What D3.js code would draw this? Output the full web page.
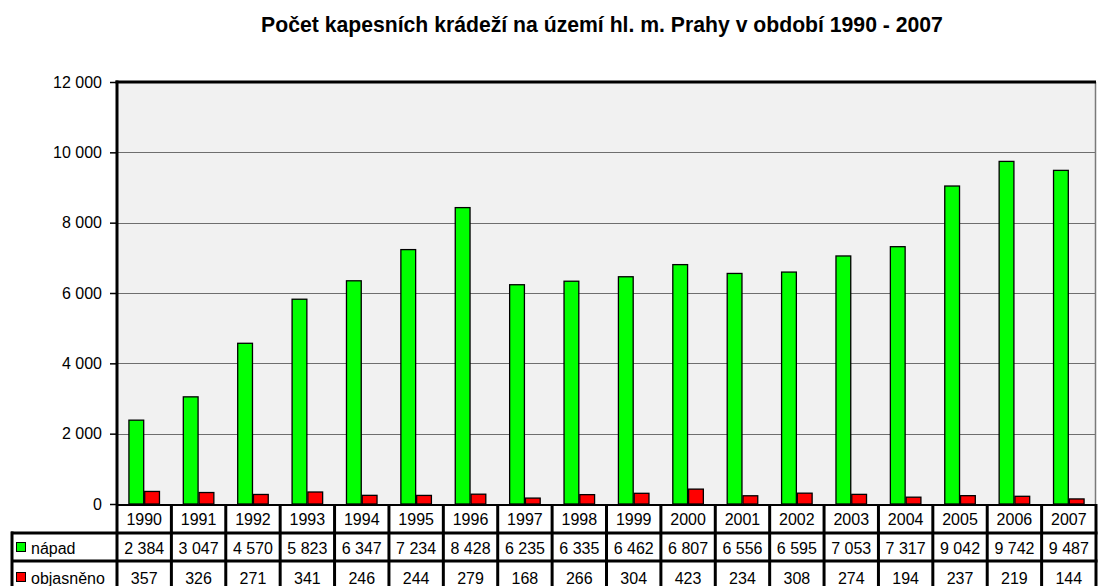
<!DOCTYPE html>
<html>
<head>
<meta charset="utf-8">
<script src="https://cdn.jsdelivr.net/npm/d3@7/dist/d3.min.js"></script>
<style>
  html, body { margin: 0; padding: 0; background: #fff; }
  svg { display: block; font-family: Arial, "Liberation Sans", sans-serif; }
</style>
</head>
<body>
<svg id="chart" width="1098" height="586"></svg>
<script>
const title = "Počet kapesních krádeží na území hl. m. Prahy v období 1990 - 2007";
const years = ["1990","1991","1992","1993","1994","1995","1996","1997","1998","1999","2000","2001","2002","2003","2004","2005","2006","2007"];
const napad = [2384,3047,4570,5823,6347,7234,8428,6235,6335,6462,6807,6556,6595,7053,7317,9042,9742,9487];
const objasneno = [357,326,271,341,246,244,279,168,266,304,423,234,308,274,194,237,219,144];
const seriesNames = ["nápad","objasněno"];
const seriesColors = ["#00ff00","#ff0000"];
const yTicks = [0,2000,4000,6000,8000,10000,12000];

const svg = d3.select("#chart");
const L = 117, R = 1096, T = 82, B = 504;
const FF = "Arial, 'Liberation Sans', sans-serif";
const fmt = v => d3.format(",")(v).replace(/,/g, " ");

const x = d3.scaleBand().domain(years).range([L, R]).paddingInner(0).paddingOuter(0);
const y = d3.scaleLinear().domain([0, 12000]).range([B, T]);
const bw = x.bandwidth();
const x1 = d3.scaleBand().domain(seriesNames).range([bw * 0.21, bw * 0.79]).padding(0);

// title
svg.append("text").attr("x", 602).attr("y", 32).attr("text-anchor", "middle")
  .style("font-weight", "bold").style("font-size", "21.2px").text(title);

// plot background
svg.append("rect").attr("x", L).attr("y", T).attr("width", R - L).attr("height", B - T).attr("fill", "#f1f1f1");

// gridlines
svg.append("g").selectAll("line").data(yTicks.filter(d => d > 0 && d < 12000)).join("line")
  .attr("x1", L).attr("x2", R).attr("y1", d => Math.round(y(d)) + 0.5).attr("y2", d => Math.round(y(d)) + 0.5)
  .attr("stroke", "#6e6e6e").attr("stroke-width", 1);

// y axis
const yAxis = d3.axisLeft(y).tickValues(yTicks).tickFormat(fmt).tickSize(6).tickPadding(8);
const gy = svg.append("g").attr("transform", `translate(${L - 1},0)`).call(yAxis);
gy.select(".domain").remove();
gy.selectAll(".tick line").attr("stroke", "#000").attr("stroke-width", 1.5);
gy.selectAll(".tick text").style("font-size", "16px").attr("fill", "#000").attr("font-family", FF);

// bars
const data = years.map((yr, i) => ({ yr, vals: [napad[i], objasneno[i]] }));
const grp = svg.append("g").selectAll("g").data(data).join("g").attr("transform", d => `translate(${x(d.yr)},0)`);
grp.selectAll("rect").data(d => d.vals.map((v, j) => ({ v, s: seriesNames[j], c: seriesColors[j] }))).join("rect")
  .attr("x", d => x1(d.s) + 0.5).attr("width", x1.bandwidth() - 1)
  .attr("y", d => y(d.v)).attr("height", d => B - y(d.v))
  .attr("fill", d => d.c).attr("stroke", "#000").attr("stroke-width", 1.3);

// plot borders
svg.append("line").attr("x1", R - 0.5).attr("x2", R - 0.5).attr("y1", T).attr("y2", B).attr("stroke", "#7a7a7a").attr("stroke-width", 1.5);
svg.append("line").attr("x1", L).attr("x2", L).attr("y1", T - 1.5).attr("y2", 586).attr("stroke", "#000").attr("stroke-width", 3);
svg.append("line").attr("x1", L - 1.5).attr("x2", R).attr("y1", T).attr("y2", T).attr("stroke", "#000").attr("stroke-width", 3);
svg.append("line").attr("x1", L).attr("x2", R).attr("y1", B + 1).attr("y2", B + 1).attr("stroke", "#000").attr("stroke-width", 2);

// data table
const tbl = svg.append("g");
tbl.selectAll("line.v").data(years.slice(1)).join("line").attr("class", "v")
  .attr("x1", d => x(d)).attr("x2", d => x(d)).attr("y1", B).attr("y2", 586)
  .attr("stroke", "#000").attr("stroke-width", 3);
tbl.append("line").attr("x1", R).attr("x2", R).attr("y1", B).attr("y2", 586).attr("stroke", "#000").attr("stroke-width", 3);
[533, 561].forEach(yy => {
  tbl.append("line").attr("x1", 11).attr("x2", R + 1.5).attr("y1", yy).attr("y2", yy).attr("stroke", "#000").attr("stroke-width", 3);
});
tbl.append("line").attr("x1", 12).attr("x2", 12).attr("y1", 531.5).attr("y2", 586).attr("stroke", "#000").attr("stroke-width", 3);

tbl.selectAll("text.yr").data(years).join("text").attr("class", "yr")
  .attr("x", d => x(d) + bw / 2).attr("y", 525).attr("text-anchor", "middle").style("font-size", "16px").text(d => d);
const rows = [napad, objasneno];
const rowBase = [554, 584];
rows.forEach((arr, r) => {
  tbl.selectAll(`text.r${r}`).data(arr).join("text").attr("class", `r${r}`)
    .attr("x", (d, i) => x(years[i]) + bw / 2).attr("y", rowBase[r])
    .attr("text-anchor", "middle").style("font-size", "16px").text(d => fmt(d));
  tbl.append("rect").attr("x", 16.5).attr("y", rowBase[r] - 11.5).attr("width", 9).attr("height", 9)
    .attr("fill", seriesColors[r]).attr("stroke", "#000").attr("stroke-width", 1);
  tbl.append("text").attr("x", 31).attr("y", rowBase[r]).style("font-size", "16px").text(seriesNames[r]);
});
</script>
</body>
</html>
